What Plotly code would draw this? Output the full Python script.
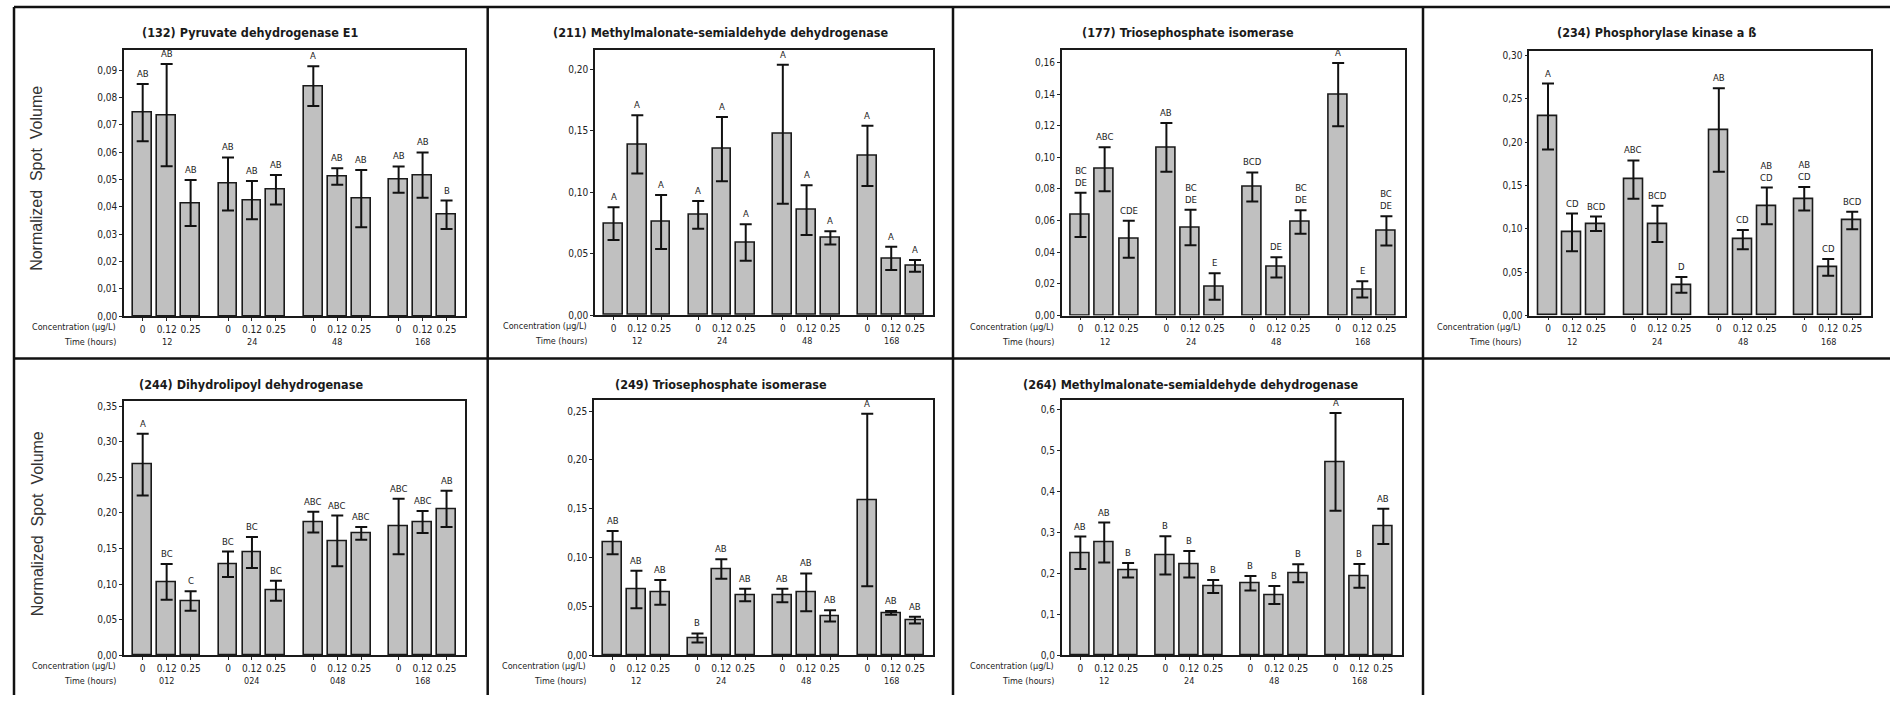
import plotly.graph_objects as go

W, H = 1890, 701

# ---- data -------------------------------------------------------------
concentrations = ["0", "0.12", "0.25"]
times = ["12", "24", "48", "168"]
times_padded = ["012", "024", "048", "168"]

# (132) Pyruvate dehydrogenase E1
pdh_mean = [0.0745, 0.0736, 0.0414, 0.0484, 0.0425, 0.0463, 0.0842, 0.0511, 0.0430, 0.0500, 0.0516, 0.0371]
pdh_err = [0.0105, 0.0187, 0.0084, 0.0097, 0.0070, 0.0054, 0.0073, 0.0030, 0.0105, 0.0048, 0.0083, 0.0052]
pdh_groups = ["AB", "AB", "AB", "AB", "AB", "AB", "A", "AB", "AB", "AB", "AB", "B"]

# (211) Methylmalonate-semialdehyde dehydrogenase
mmsdh211_mean = [0.0745, 0.1390, 0.0758, 0.0817, 0.1352, 0.0591, 0.1473, 0.0855, 0.0629, 0.1296, 0.0462, 0.0401]
mmsdh211_err = [0.0134, 0.0237, 0.0220, 0.0113, 0.0262, 0.0148, 0.0566, 0.0203, 0.0054, 0.0245, 0.0095, 0.0047]
mmsdh211_groups = ["A"] * 12

# (177) Triosephosphate isomerase
tpi177_mean = [0.0637, 0.0925, 0.0483, 0.1063, 0.0556, 0.0184, 0.0813, 0.0305, 0.0591, 0.1397, 0.0165, 0.0535]
tpi177_err = [0.0140, 0.0139, 0.0117, 0.0154, 0.0112, 0.0084, 0.0092, 0.0064, 0.0074, 0.0200, 0.0051, 0.0093]
tpi177_groups = ["BC<br>DE", "ABC", "CDE", "AB", "BC<br>DE", "E", "BCD", "DE", "BC<br>DE", "A", "E", "BC<br>DE"]

# (234) Phosphorylase kinase a ß
phk_mean = [0.2296, 0.0959, 0.1058, 0.1569, 0.1058, 0.0354, 0.2140, 0.0876, 0.1264, 0.1348, 0.0556, 0.1096]
phk_err = [0.0380, 0.0217, 0.0084, 0.0221, 0.0209, 0.0091, 0.0482, 0.0110, 0.0212, 0.0135, 0.0096, 0.0101]
phk_groups = ["A", "CD", "BCD", "ABC", "BCD", "D", "AB", "CD", "AB<br>CD", "AB<br>CD", "CD", "BCD"]

# (244) Dihydrolipoyl dehydrogenase
dld_mean = [0.2678, 0.1030, 0.0761, 0.1277, 0.1444, 0.0905, 0.1871, 0.1606, 0.1713, 0.1810, 0.1871, 0.2056]
dld_err = [0.0434, 0.0250, 0.0137, 0.0180, 0.0218, 0.0142, 0.0146, 0.0357, 0.0090, 0.0390, 0.0155, 0.0256]
dld_groups = ["A", "BC", "C", "BC", "BC", "BC", "ABC", "ABC", "ABC", "ABC", "ABC", "AB"]

# (249) Triosephosphate isomerase
tpi249_mean = [0.1152, 0.0672, 0.0642, 0.0176, 0.0882, 0.0615, 0.0611, 0.0642, 0.0402, 0.1588, 0.0432, 0.0358]
tpi249_err = [0.0118, 0.0193, 0.0127, 0.0046, 0.0100, 0.0064, 0.0069, 0.0194, 0.0057, 0.0883, 0.0019, 0.0034]
tpi249_groups = ["AB", "AB", "AB", "B", "AB", "AB", "AB", "AB", "AB", "A", "AB", "AB"]

# (264) Methylmalonate-semialdehyde dehydrogenase
mmsdh264_mean = [0.2500, 0.2750, 0.2073, 0.2435, 0.2218, 0.1677, 0.1758, 0.1468, 0.2000, 0.4718, 0.1935, 0.3145]
mmsdh264_err = [0.0395, 0.0488, 0.0178, 0.0468, 0.0323, 0.0157, 0.0177, 0.0218, 0.0218, 0.1194, 0.0290, 0.0431]
mmsdh264_groups = ["AB", "AB", "B", "B", "B", "B", "B", "B", "B", "A", "B", "AB"]

# ---- layout constants -------------------------------------------------
FONT = "DejaVu Sans Condensed, Liberation Sans Narrow, Arial Narrow, sans-serif"
TEXT = "#222222"
BAR_FILL = "#c0c0c0"
GROUP_STEP = 3.56          # distance between the first bars of two time groups
X_RANGE = [-0.78, 3 * GROUP_STEP + 2 + 0.77]

# panel: title, means, errors, letters, time labels, y max, y step, tick format,
#        plot box in pixels (x0, y0, x1, y1), frame centre x, title y, y-title?
panels = [
    ("(132) Pyruvate dehydrogenase E1", pdh_mean, pdh_err, pdh_groups, times,
     0.0976, 0.01, ".2f", (124, 49, 465, 318.3), 250, 32, True),
    ("(211) Methylmalonate-semialdehyde dehydrogenase", mmsdh211_mean, mmsdh211_err, mmsdh211_groups, times,
     0.216, 0.05, ".2f", (595, 49.3, 933.3, 317.3), 720, 32, False),
    ("(177) Triosephosphate isomerase", tpi177_mean, tpi177_err, tpi177_groups, times,
     0.168, 0.02, ".2f", (1061.7, 49.3, 1405, 317.7), 1188, 32, False),
    ("(234) Phosphorylase kinase a ß", phk_mean, phk_err, phk_groups, times,
     0.305, 0.05, ".2f", (1529.3, 50.7, 1870.7, 317.7), 1656, 32, False),
    ("(244) Dihydrolipoyl dehydrogenase", dld_mean, dld_err, dld_groups, times_padded,
     0.357, 0.05, ".2f", (124, 404.3, 465, 660.7), 251, 387, True),
    ("(249) Triosephosphate isomerase", tpi249_mean, tpi249_err, tpi249_groups, times,
     0.261, 0.05, ".2f", (594, 403.3, 933.3, 660.7), 721, 387, False),
    ("(264) Methylmalonate-semialdehyde dehydrogenase", mmsdh264_mean, mmsdh264_err, mmsdh264_groups, times,
     0.6226, 0.1, ".1f", (1061.7, 403.3, 1401.7, 660.7), 1190, 387, False),
]

bar_x = [g * GROUP_STEP + i for g in range(len(times)) for i in range(len(concentrations))]
bar_ticks = [c for _ in times for c in concentrations]

fig = go.Figure()
annotations = []
shapes = []

for k, (title, mean, err, letters, tlabels, ymax, dtick, fmt, box, cx, ty, ytitle) in enumerate(panels):
    n = "" if k == 0 else str(k + 1)
    xa, ya = "x" + n, "y" + n
    x0, y0, x1, y1 = box

    fig.add_trace(go.Bar(
        x=bar_x, y=mean, xaxis=xa, yaxis=ya, width=0.79,
        marker=dict(color=BAR_FILL, line=dict(color="#1a1a1a", width=1.6)),
        error_y=dict(type="data", array=err, color="#111111", thickness=2, width=6),
        hoverinfo="skip",
    ))

    fig.layout["xaxis" + n] = dict(
        domain=[x0 / W, x1 / W], anchor=ya, range=X_RANGE,
        tickvals=bar_x, ticktext=bar_ticks, ticks="outside", ticklen=3, tickangle=0,
        tickcolor="#222", tickfont=dict(family=FONT, size=10, color=TEXT),
        showline=True, mirror=True, linecolor="#1a1a1a", linewidth=1.5,
        showgrid=False, zeroline=False, fixedrange=True,
    )
    fig.layout["yaxis" + n] = dict(
        domain=[1 - y1 / H, 1 - y0 / H], anchor=xa, range=[0, ymax],
        dtick=dtick, tick0=0, tickformat=fmt, ticks="outside", ticklen=3,
        tickcolor="#222", tickfont=dict(family=FONT, size=10, color=TEXT),
        showline=True, mirror=True, linecolor="#1a1a1a", linewidth=1.5,
        showgrid=False, zeroline=False, fixedrange=True,
    )

    # panel title
    annotations.append(dict(
        text="<b>" + title + "</b>", xref="paper", yref="paper", x=cx / W, y=1 - ty / H,
        xanchor="center", yanchor="middle", showarrow=False,
        font=dict(family=FONT, size=12.5, color="#1a1a1a"),
    ))

    # row captions left of the category labels
    for txt, shift in (("Concentration (µg/L)", -4), ("Time (hours)", -19)):
        annotations.append(dict(
            text=txt, xref=xa + " domain", yref=ya + " domain", x=0, y=0,
            xanchor="right", yanchor="top", xshift=-6, yshift=shift, showarrow=False,
            font=dict(family=FONT, size=9, color=TEXT),
        ))

    # time labels under the middle bar of each group
    for g, t in enumerate(tlabels):
        annotations.append(dict(
            text=t, xref=xa, yref=ya + " domain", x=g * GROUP_STEP + 1, y=0,
            xanchor="center", yanchor="top", yshift=-19, showarrow=False,
            font=dict(family=FONT, size=9, color=TEXT),
        ))

    # significance letters above each error bar
    for xv, m, e, lab in zip(bar_x, mean, err, letters):
        annotations.append(dict(
            text=lab, xref=xa, yref=ya, x=xv, y=m + e,
            xanchor="center", yanchor="bottom", yshift=3, showarrow=False,
            font=dict(family=FONT, size=9.5, color=TEXT),
        ))

    if ytitle:
        annotations.append(dict(
            text="Normalized  Spot  Volume", xref="paper", yref="paper",
            x=37 / W, y=1 - ((y0 + y1) / 2 - 4) / H, textangle=-90,
            xanchor="center", yanchor="middle", showarrow=False,
            font=dict(family="Liberation Sans, Arial, sans-serif", size=16, color="#333"),
        ))

# frame around the panels
def hline(y, xa_, xb_):
    return dict(type="line", xref="paper", yref="paper", x0=xa_ / W, x1=xb_ / W,
                y0=1 - y / H, y1=1 - y / H, line=dict(color="#111", width=2.5))

def vline(x, ya_, yb_):
    return dict(type="line", xref="paper", yref="paper", x0=x / W, x1=x / W,
                y0=1 - ya_ / H, y1=1 - yb_ / H, line=dict(color="#111", width=2.5))

shapes += [
    hline(6, 14, W), hline(361, 14, W),
    vline(14, 6, H), vline(487.7, 6, H), vline(953, 6, H), vline(1423, 6, H),
]

fig.update_layout(
    width=W, height=H, margin=dict(l=0, r=0, t=0, b=0),
    paper_bgcolor="white", plot_bgcolor="white",
    showlegend=False, separators=",.", bargap=0,
    annotations=annotations, shapes=shapes,
)

fig.write_html("out.html")
